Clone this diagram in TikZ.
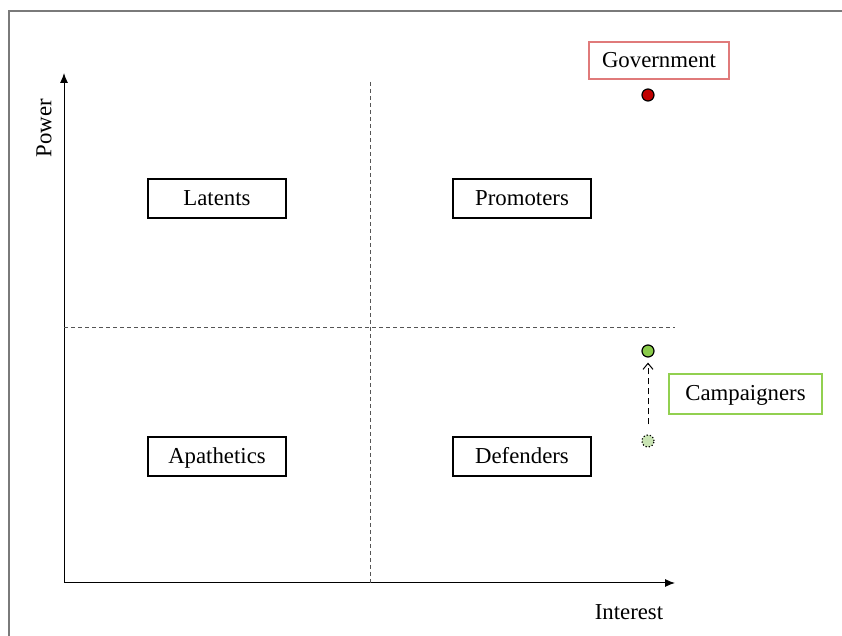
\documentclass[tikz,border=0pt]{standalone}
\usepackage{fontspec}
\setmainfont{Liberation Serif}
\usepackage{xcolor}
\definecolor{colorFrame}{HTML}{7A7A7A}
\definecolor{colorGrid}{HTML}{555555}
\definecolor{colorGov}{HTML}{E07A7A}
\definecolor{colorGovDot}{HTML}{C00000}
\definecolor{colorCamp}{HTML}{92D050}
\definecolor{colorCampDot}{HTML}{8ACB4A}
\definecolor{colorCampOld}{HTML}{C9E4B4}
\usetikzlibrary{arrows.meta}
\tikzset{
  every node/.style={font=\fontsize{11.4}{14}\selectfont},
  quadrant/.style={draw, line width=0.7pt, minimum width=69pt, minimum height=19.5pt,
    inner sep=0pt, text height=0.8em, text depth=0.12em},
  actor/.style={draw, line width=0.7pt, minimum height=18.5pt,
    inner sep=0pt, text height=0.8em, text depth=0.12em},
  dot/.style={circle, draw, line width=0.6pt, minimum size=6pt, inner sep=0pt},
  axis/.style={-{Latex[length=5pt,width=4pt]}, line width=0.5pt},
  grid/.style={colorGrid, line width=0.4pt, dash pattern=on 2pt off 1.5pt}
}

\begin{document}
\begin{tikzpicture}[x=0.5pt, y=-0.5pt]
\useasboundingbox (0,0) rectangle (842,636);
% outer frame (left and top only)
\draw [colorFrame, line width=1pt] (9,636) -- (9,11) -- (842,11);

% axes
\coordinate (origin) at (64,583);
\coordinate (ytip) at (64,73);
\coordinate (xtip) at (675,583);
\draw [axis] (origin) -- (ytip);
\draw [axis] (origin) -- (xtip);
\node [rotate=90] (power) at (44,128) {Power};
\node (interest) at (629,612) {Interest};

% quadrant split
\coordinate (vtop) at (370,82);
\coordinate (vbot) at (370,583);
\coordinate (hleft) at (64,327);
\coordinate (hright) at (675,327);
\draw [grid] (vtop) -- (vbot);
\draw [grid] (hleft) -- (hright);

% quadrant labels
\node [quadrant] (latents) at (217,198.5) {Latents};
\node [quadrant] (promoters) at (522,198.5) {Promoters};
\node [quadrant] (apathetics) at (217,456.5) {Apathetics};
\node [quadrant] (defenders) at (522,456.5) {Defenders};

% stakeholders
\node [actor, colorGov, text=black, minimum width=70pt] (gov) at (659,60.5) {Government};
\node [dot, fill=colorGovDot] (govdot) at (648,95) {};

\node [actor, colorCamp, text=black, minimum width=76.5pt, minimum height=20pt] (camp) at (745.5,394) {Campaigners};
\node [dot, fill=colorCampDot] (campnew) at (648,351) {};
\node [dot, fill=colorCampOld, densely dotted] (campold) at (648,441) {};
\draw [-{Straight Barb[length=3pt,width=5pt]}, line width=0.5pt, dash pattern=on 3pt off 2pt,
  shorten >=2.5pt, shorten <=5pt] (campold) -- (campnew);
\end{tikzpicture}
\end{document}
